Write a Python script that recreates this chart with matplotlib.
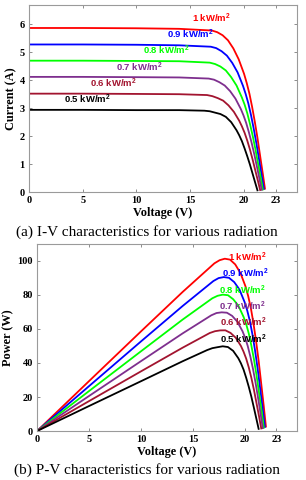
import numpy as np
from matplotlib import pyplot as plt

# irradiance levels, top curve first
labels = ['1 kW/m$^2$', '0.9 kW/m$^2$', '0.8 kW/m$^2$',
          '0.7 kW/m$^2$', '0.6 kW/m$^2$', '0.5 kW/m$^2$']
colors = ['#ff0000', '#0000ff', '#00ff00', '#7e2f8e', '#a2142f', '#000000']

# I-V points (V, A)
v_red = [0, 5, 10, 14, 17.05, 17.55, 18.05, 18.55, 19.05, 19.55, 20.05, 20.3, 20.55, 20.8, 21.05, 21.3, 21.55, 21.8, 22.0]
i_red = [5.87, 5.87, 5.86, 5.84, 5.78, 5.72, 5.61, 5.43, 5.14, 4.75, 4.23, 3.90, 3.52, 3.05, 2.52, 1.94, 1.29, 0.65, 0.12]
v_blue = [0, 5, 10, 14, 16.95, 17.45, 17.95, 18.45, 18.95, 19.45, 19.95, 20.2, 20.45, 20.7, 20.95, 21.2, 21.45, 21.7, 21.9]
i_blue = [5.28, 5.28, 5.27, 5.25, 5.20, 5.15, 5.04, 4.88, 4.62, 4.28, 3.80, 3.51, 3.17, 2.75, 2.27, 1.74, 1.16, 0.58, 0.11]
v_green = [0, 5, 10, 14, 16.85, 17.35, 17.85, 18.35, 18.85, 19.35, 19.85, 20.1, 20.35, 20.6, 20.85, 21.1, 21.35, 21.6, 21.8]
i_green = [4.70, 4.70, 4.69, 4.68, 4.63, 4.58, 4.49, 4.35, 4.11, 3.81, 3.38, 3.13, 2.82, 2.44, 2.02, 1.55, 1.03, 0.52, 0.09]
v_purple = [0, 5, 10, 14, 16.75, 17.25, 17.75, 18.25, 18.75, 19.25, 19.75, 20.0, 20.25, 20.5, 20.75, 21.0, 21.25, 21.5, 21.7]
i_purple = [4.12, 4.12, 4.11, 4.10, 4.06, 4.02, 3.93, 3.81, 3.61, 3.34, 2.97, 2.74, 2.47, 2.14, 1.77, 1.36, 0.91, 0.45, 0.08]
v_brown = [0, 5, 10, 14, 16.6, 17.1, 17.6, 18.1, 18.6, 19.1, 19.6, 19.85, 20.1, 20.35, 20.6, 20.85, 21.1, 21.35, 21.55]
i_brown = [3.52, 3.52, 3.51, 3.50, 3.47, 3.43, 3.36, 3.27, 3.10, 2.87, 2.55, 2.35, 2.12, 1.84, 1.52, 1.16, 0.77, 0.39, 0.07]
v_black = [0, 5, 10, 14, 16.35, 16.85, 17.35, 17.85, 18.35, 18.85, 19.35, 19.6, 19.85, 20.1, 20.35, 20.6, 20.85, 21.1, 21.3]
i_black = [2.94, 2.94, 2.93, 2.93, 2.91, 2.89, 2.84, 2.79, 2.69, 2.50, 2.21, 2.03, 1.82, 1.56, 1.28, 0.98, 0.65, 0.32, 0.06]

voltages = [v_red, v_blue, v_green, v_purple, v_brown, v_black]
currents = [i_red, i_blue, i_green, i_purple, i_brown, i_black]

# label anchor points (left edge) in data units
iv_label_pos = [(15.2, 6.22), (12.9, 5.64), (10.6, 5.07), (8.1, 4.47), (5.7, 3.89), (3.3, 3.31)]
pv_label_pos = [(18.35, 102), (17.8, 92.6), (17.5, 82.8), (17.5, 73.5), (17.6, 63.8), (17.6, 54)]

xticks = [0, 5, 10, 15, 20, 23]

plt.rcParams['mathtext.default'] = 'regular'
TICK_FONT = dict(family='Liberation Serif', weight='bold', size=7.5)
LABEL_FONT = dict(family='Liberation Serif', weight='bold', size=8.8)
ANN_FONT = dict(family='Liberation Sans', weight='bold', size=6.8)


def style_axes(ax):
    for s in ax.spines.values():
        s.set_color('#9a9a9a')
        s.set_linewidth(0.8)
    ax.tick_params(direction='in', top=True, right=True, length=2.5,
                   width=0.6, color='#7a7a7a', pad=3)
    for lab in ax.get_xticklabels() + ax.get_yticklabels():
        lab.set_fontfamily(TICK_FONT['family'])
        lab.set_fontweight('bold')
        lab.set_fontsize(TICK_FONT['size'])


def main():
    fig = plt.figure(figsize=(3.06, 4.8), dpi=100)

    ax1 = fig.add_axes([0.095, 0.600, 0.876, 0.390])
    for v, i, c in zip(voltages, currents, colors):
        ax1.plot(v, i, color=c, lw=1.3)
    for (x, y), t, c in zip(iv_label_pos, labels, colors):
        ax1.text(x, y, t, color=c, va='center', ha='left', **ANN_FONT)
    ax1.set_xlim(0, 25)
    ax1.set_ylim(0, 6.7)
    ax1.set_xticks(xticks)
    ax1.set_yticks(range(0, 7))
    ax1.set_xlabel('Voltage (V)', labelpad=1, **LABEL_FONT)
    ax1.set_ylabel('Current (A)', labelpad=2, **LABEL_FONT)
    style_axes(ax1)

    ax2 = fig.add_axes([0.121, 0.102, 0.850, 0.390])
    for v, i, c in zip(voltages, currents, colors):
        p = np.array(v) * np.array(i)
        ax2.plot(v, p, color=c, lw=1.3)
    for (x, y), t, c in zip(pv_label_pos, labels, colors):
        ax2.text(x, y, t, color=c, va='center', ha='left', **ANN_FONT)
    ax2.set_xlim(0, 25)
    ax2.set_ylim(0, 110)
    ax2.set_xticks(xticks)
    ax2.set_yticks(range(0, 101, 20))
    ax2.set_xlabel('Voltage (V)', labelpad=1, **LABEL_FONT)
    ax2.set_ylabel('Power (W)', labelpad=2, **LABEL_FONT)
    style_axes(ax2)

    fig.text(0.479, 1 - 232 / 480, '(a) I-V characteristics for various radiation',
             ha='center', va='center', family='Liberation Serif', size=11)
    fig.text(0.479, 1 - 470 / 480, '(b) P-V characteristics for various radiation',
             ha='center', va='center', family='Liberation Serif', size=11)

    fig.savefig('out.png', dpi=100)


if __name__ == '__main__':
    main()
